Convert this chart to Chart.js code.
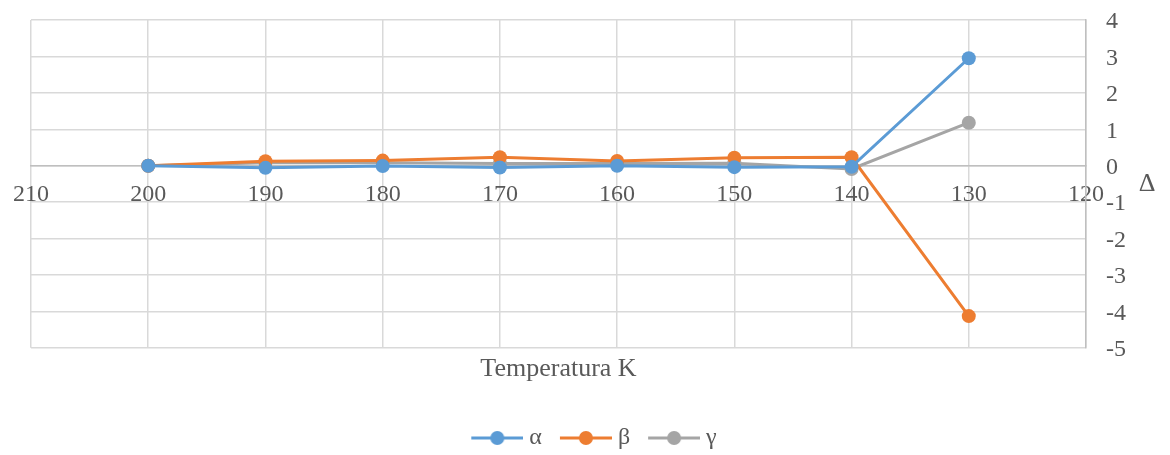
<!DOCTYPE html>
<html>
<head>
<meta charset="utf-8">
<script src="https://cdn.jsdelivr.net/npm/chart.js@4/dist/chart.umd.min.js"></script>
<style>
html,body{margin:0;padding:0;background:#fff;}
#wrap{width:1170px;height:455px;position:relative;}
</style>
</head>
<body>
<div id="wrap"><canvas id="c" width="1170" height="455"></canvas></div>
<script>
// Data
const temperatures = [200, 190, 180, 170, 160, 150, 140, 130];
const alphaValues = [0, -0.06, -0.01, -0.05, 0.0, -0.04, -0.03, 2.95];
const betaValues  = [0, 0.12, 0.14, 0.23, 0.13, 0.22, 0.23, -4.13];
const gammaValues = [0, 0.08, 0.08, 0.06, 0.06, 0.07, -0.09, 1.18];
const seriesNames = ['α', 'β', 'γ'];
const xTitle = 'Temperatura K';
const yTitle = 'Δ';
const xMin = 120, xMax = 210, xStep = 10;
const yMin = -5, yMax = 4, yStep = 1;

const colors = ['#5B9BD5', '#ED7D31', '#A5A5A5'];
const textColor = '#595959';
const gridColor = '#d9d9d9';
const fontFamily = '"Liberation Serif", "Times New Roman", serif';

Chart.defaults.font.family = fontFamily;
Chart.defaults.color = textColor;

function toPoints(vals) {
  return temperatures.map((t, i) => ({x: t, y: vals[i]}));
}

// legend icon: line with a dot, offset inside a wider canvas for spacing
function legendIcon(color) {
  const cv = document.createElement('canvas');
  cv.width = 69; cv.height = 16;
  const c = cv.getContext('2d');
  c.strokeStyle = color;
  c.lineWidth = 3;
  c.beginPath(); c.moveTo(17, 8); c.lineTo(69, 8); c.stroke();
  c.fillStyle = color;
  c.beginPath(); c.arc(43, 8, 7, 0, Math.PI * 2); c.fill();
  return cv;
}

const allSeries = [alphaValues, betaValues, gammaValues];
const datasets = allSeries.map((vals, i) => ({
  label: seriesNames[i],
  data: toPoints(vals),
  borderColor: colors[i],
  backgroundColor: colors[i],
  borderWidth: 3,
  pointRadius: 7,
  pointHoverRadius: 7,
  pointBorderWidth: 0,
  tension: 0,
  fill: false
}));

const deltaTitle = {
  id: 'deltaTitle',
  afterDraw(chart) {
    const ctx = chart.ctx;
    const ca = chart.chartArea;
    ctx.save();
    ctx.font = '26px ' + fontFamily;
    ctx.fillStyle = textColor;
    ctx.textAlign = 'center';
    ctx.textBaseline = 'middle';
    ctx.fillText(yTitle, ca.right + 61, (ca.top + ca.bottom) / 2);
    ctx.restore();
  }
};

new Chart(document.getElementById('c'), {
  type: 'line',
  data: { datasets },
  options: {
    responsive: false,
    animation: false,
    events: [],
    layout: { padding: { left: 31, right: 24, top: 20, bottom: -5 } },
    scales: {
      x: {
        type: 'linear',
        reverse: true,
        min: xMin, max: xMax,
        position: { y: 0 },
        ticks: { stepSize: xStep, font: { size: 24 }, color: textColor, padding: 4 },
        grid: { color: gridColor, lineWidth: 1.5, drawTicks: true, tickLength: 11, tickColor: 'rgba(0,0,0,0)' },
        border: { display: true, color: '#bfbfbf', width: 1.5 }
      },
      x2: {
        type: 'linear',
        axis: 'x',
        reverse: true,
        min: xMin, max: xMax,
        position: 'bottom',
        ticks: { display: false },
        grid: { display: false },
        border: { display: false },
        title: { display: true, text: xTitle, font: { size: 26 }, color: textColor, padding: { top: -2, bottom: 34 } }
      },
      y: {
        type: 'linear',
        position: 'right',
        min: yMin, max: yMax,
        afterFit(scale) { scale.width += 15; },
        ticks: { stepSize: yStep, font: { size: 24 }, color: textColor, padding: 5, labelOffset: 2 },
        grid: { color: gridColor, lineWidth: 1.5, drawTicks: true, tickLength: 15, tickColor: 'rgba(0,0,0,0)' },
        border: { display: true, color: '#bfbfbf', width: 1.5 }
      }
    },
    plugins: {
      title: { display: false },
      tooltip: { enabled: false },
      legend: {
        display: true,
        position: 'bottom',
        labels: {
          usePointStyle: true,
          pointStyleWidth: 57,
          boxHeight: 16,
          padding: 7,
          font: { size: 24 },
          color: textColor,
          generateLabels(chart) {
            return chart.data.datasets.map((ds, i) => ({
              text: ds.label,
              fillStyle: ds.borderColor,
              strokeStyle: ds.borderColor,
              lineWidth: 0,
              pointStyle: legendIcon(ds.borderColor),
              hidden: false,
              datasetIndex: i,
              fontColor: textColor
            }));
          }
        }
      }
    }
  },
  plugins: [deltaTitle]
});
</script>
</body>
</html>
